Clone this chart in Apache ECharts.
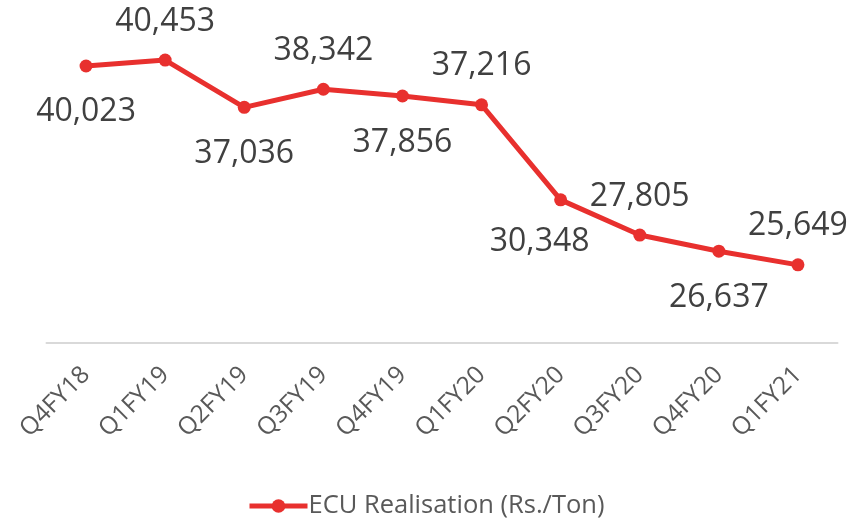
<!DOCTYPE html>
<html>
<head>
<meta charset="utf-8">
<script src="https://cdn.jsdelivr.net/npm/echarts@6/dist/echarts.min.js"></script>
<style>
html,body{margin:0;padding:0;background:#fff;}
#main{width:865px;height:520px;}
</style>
</head>
<body>
<div id="main"></div>
<script>
const categories = ['Q4FY18','Q1FY19','Q2FY19','Q3FY19','Q4FY19','Q1FY20','Q2FY20','Q3FY20','Q4FY20','Q1FY21'];
const realisation = [40023, 40453, 37036, 38342, 37856, 37216, 30348, 27805, 26637, 25649];
const seriesName = 'ECU Realisation (Rs./Ton)';

const labelSide = ['bottom','top','bottom','top','bottom','top','bottom','top','bottom','top'];
const labelShift = [[0,-1],[0,0],[0,0],[0,0],[0,0],[0,0],[-21,-4],[0,0],[0,0],[0,0]];

const chart = echarts.init(document.getElementById('main'));
const FONT = '"Open Sans", sans-serif';
chart.setOption({
  animation: false,
  textStyle: { fontFamily: FONT },
  grid: { left: 46.5, right: 27.5, top: 11, height: 332 },
  xAxis: {
    type: 'category',
    data: categories,
    boundaryGap: true,
    axisLine: { lineStyle: { color: '#d9d9d9', width: 2 } },
    axisTick: { show: false },
    axisLabel: { rotate: 45, margin: 28, color: '#595959', fontSize: 24.5, fontFamily: FONT }
  },
  yAxis: {
    type: 'value', min: 20000, max: 44000, show: false,
    splitLine: { show: false }
  },
  legend: {
    bottom: -4, left: 242,
    itemWidth: 58, itemHeight: 17, itemGap: 10,
    lineStyle: { width: 5 },
    textStyle: { color: '#595959', fontSize: 25.5, fontFamily: FONT, padding: [0,0,0,-4] },
    data: [seriesName]
  },
  series: [{
    name: seriesName,
    type: 'line',
    data: realisation.map((v, i) => ({
      value: v,
      label: { position: labelSide[i], offset: labelShift[i], distance: labelSide[i] === 'top' ? 16 : 24 }
    })),
    symbol: 'circle',
    symbolSize: 13,
    lineStyle: { color: '#E8302E', width: 5 },
    itemStyle: { color: '#E8302E' },
    label: {
      show: true,
      color: '#404040', fontSize: 32, fontFamily: FONT,
      formatter: p => p.value.toLocaleString('en-US')
    }
  }]
});
</script>
</body>
</html>
